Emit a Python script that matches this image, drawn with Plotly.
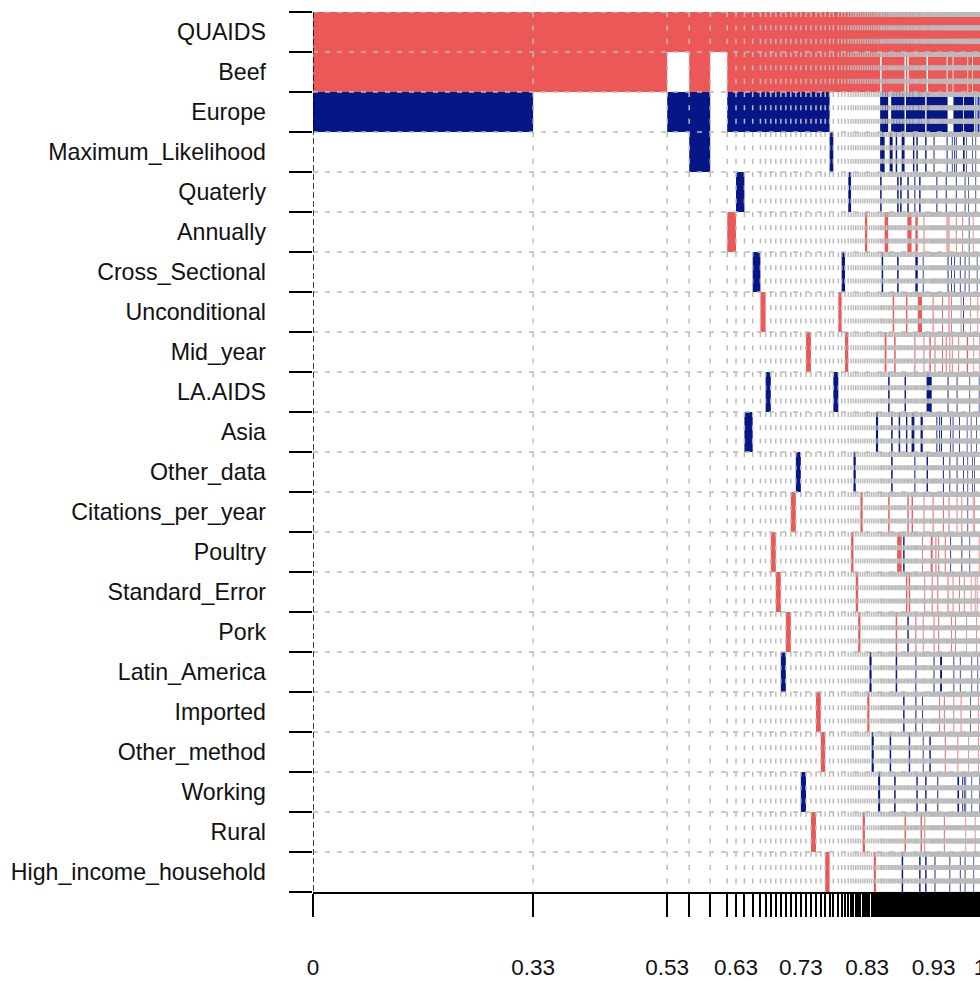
import plotly.graph_objects as go

# Variables shown as rows (top to bottom) and their short codes
variables = [
    "QUAIDS", "Beef", "Europe", "Maximum_Likelihood", "Quaterly", "Annually",
    "Cross_Sectional", "Unconditional", "Mid_year", "LA.AIDS", "Asia", "Other_data",
    "Citations_per_year", "Poultry", "Standard_Error", "Pork", "Latin_America",
    "Imported", "Other_method", "Working", "Rural", "High_income_household",
]
var_codes = [
    "QU", "BE", "EU", "ML", "QT", "AN", "CS", "UN", "MY", "LA", "AS", "OD",
    "CI", "PO", "SE", "PK", "LM", "IM", "OM", "WK", "RU", "HI",
]

# Included regressors of each model (sign of the posterior mean), best model first
model_terms = [
    "QU+ BE+ EU-", "QU+ BE+", "QU+ EU-", "QU+ BE+ EU- ML-", "QU+",
    "QU+ BE+ EU- AN+", "QU+ BE+ EU- QT-", "QU+ BE+ EU- AS-", "QU+ BE+ EU- CS-",
    "QU+ BE+ EU- UN+", "QU+ BE+ EU- LA-", "QU+ BE+ EU- PO+", "QU+ BE+ EU- SE+",
    "QU+ BE+ EU- LM-", "QU+ BE+ EU- PK+", "QU+ BE+ EU- CI+", "QU+ BE+ EU- OD-",
    "QU+ BE+ EU- WK-", "QU+ BE+ EU- MY+", "QU+ BE+ EU- RU+", "QU+ BE+ EU- IM+",
    "QU+ BE+ EU- OM+", "QU+ BE+ EU- HI+",
    "QU+ BE+ ML-", "QU+ BE+ LA-", "QU+ BE+ UN+", "QU+ BE+ CS-", "QU+ BE+ MY+",
    "QU+ BE+ QT-", "QU+ BE+ PO+", "QU+ BE+ OD-", "QU+ BE+ SE+", "QU+ BE+ PK+",
    "QU+ BE+ CI+", "QU+ BE+ RU+", "QU+ BE+ AN+", "QU+ BE+ IM+", "QU+ BE+ LM-",
    "QU+ BE+ OM-", "QU+ BE+ HI+", "QU+ BE+ AS-", "QU+ BE+ WK-",
    # smaller models
    "QU+ EU- ML- QT-", "QU+ BE+ EU- ML- CS-", "QU+ BE+ EU- ML-",
    "QU+ BE+ EU- AN+ MY+", "QU+ BE+ EU- AN+", "QU+ BE+ LA- CI+", "QU+ BE+ ML- OM-",
    "QU+ BE+ EU- ML- AS- OD-", "QU+ BE+ EU- UN+", "QU+ BE+ EU- MY+ WK-",
    "QU+ BE+ EU- ML- PK+ LM-", "QU+ BE+ EU- QT- CS- PO+", "QU+ BE+ EU- PO+ AS-",
    "QU+ BE+ EU- QT- PO+", "QU+ BE+ EU- ML- HI-",
    "QU+ BE+ EU- ML- IM- PO-", "QU+ LA- RU+", "QU+ BE+ EU- UN+ AS- SE+",
    "QU+ EU- AN+ QT- CI+ PK-", "QU+ BE+ EU- AN+ SE+ OM-", "QU+ BE+ EU- AN+",
    "QU+ BE+ EU- AS- CI+", "QU+ BE+ EU- AS- ML-",
    "QU+ BE+ EU- QT- MY+ OD-", "QU+ BE+ EU- PK+ LM- IM- AN+ CS-",
    "QU+ BE+ EU- AN+ CS- ML- WK-", "QU+ BE+ EU- UN+", "QU+ BE+ EU- UN+ QT- HI-",
    "QU+ BE+ EU- AS- UN+ RU+",
    "QU+ BE+ EU- AS- PO+ IM-", "QU+ BE+ EU- PK+ OM- CS-", "QU+ BE+ EU- AN+ MY+ CI+",
    "QU+ BE+ EU- SE+ RU+",
    "QU+ BE+ ML- WK- HI-", "QU+ EU- LA- OD-", "QU+ BE+ EU- LA-", "QU+ BE+ EU- LA- MY+ OM-",
    # tail of the model space
    "QU+ BE+ EU- LA- PO+", "QU+ BE+ EU- SE+ PO+", "QU+ BE+ EU- UN+ CI+",
    "QU+ BE+ EU- PK+ LM- ML-", "QU+ BE+ EU- MY+ HI-", "QU+ BE+ EU- PO+",
    "QU+ BE+ EU- QT- AS-", "QU+ BE+ EU- SE+ WK-", "QU+ BE+ EU- PO+ PK+",
    "QU+ BE+ EU- IM+ AS-", "QU+ BE+ EU- LM-", "QU+ BE+ EU- LM- AS-",
    "QU+ BE+ EU- MY+ UN+", "QU+ BE+ EU- OD- CI+", "QU+ BE+ EU- IM+ RU+",
    "QU+ BE+ EU- PO+ OM+", "QU+ BE+ EU- MY+ QT-", "QU+ EU- ML- AN+",
    "QU+ BE+ LA- SE+ CS-", "QU+ BE+ UN+ CI+ AN+",
    "QU+ BE+ OD- HI- MY+", "QU+ BE+ PO- AS-", "QU+ BE+ CS- PK+ UN+",
    "QU+ BE+ MY+ ML-", "QU+ AS- SE+", "QU+ BE+ EU- LM- IM+",
    "QU+ BE+ EU- CS- ML-", "QU+ BE+ EU- PK+", "QU+ BE+ EU- ML- QT- AN+",
    "QU+ BE+ EU- LA- OD- CI+", "QU+ BE+ EU- OM+ WK-", "QU+ BE+ EU- WK- MY+",
    "QU+ BE+ EU- SE+ AS-", "QU+ BE+ EU- CS- LM- HI-", "QU+ BE+ EU- IM+ UN+",
    "QU+ BE+ EU- CI+ PO-", "QU+ BE+ EU- AN+ WK-", "QU+ BE+ ML- UN- OD-",
    "QU+ BE+ EU- SE+ WK- ML-", "QU+ BE+ EU- QT- CS- HI-",
    "QU+ BE+ EU- RU+ WK-", "QU+ BE+ EU- ML- PK+", "QU+ BE+ EU- AS- MY+",
    "QU+ EU- MY+ OD- CI-", "QU+ BE+ EU- QT- OM+", "QU+ BE+ EU- AN- CS-",
    "QU+ BE+ EU- PO- LA-", "QU+ BE+ EU- UN+ IM-", "QU+ BE+ EU- AS- SE+",
    "QU+ BE+ EU- LM- WK-", "QU+ EU- ML- OD-",
    "QU+ BE+ EU- CI+ AN+", "QU+ BE+ EU- HI- MY+", "QU+ BE+ OD- CI+",
    "QU+ BE+ SE+ RU+", "QU+ BE+ EU- ML- QT-", "QU+ BE+ PK+ AS-",
    "QU+ BE+ EU- SE+ CS-", "QU+ BE+ LM- UN+", "QU+ BE+ EU- IM+ OM+",
    "QU+ BE+ EU- LA- PO+", "QU+ BE+ MY+ WK-",
]

# Posterior model probabilities, same order as model_terms
model_pmp = [
    0.3300, 0.2010, 0.0330, 0.0315, 0.0255,
    0.0132, 0.0126, 0.0124, 0.0116,
    0.0078, 0.0078, 0.0075, 0.0075,
    0.0075, 0.0075, 0.0075, 0.0075,
    0.0077, 0.0075, 0.0075, 0.0072,
    0.0066, 0.0066,
    0.0056, 0.0075, 0.0050, 0.0050, 0.0049,
    0.0042, 0.0036, 0.0035, 0.0035, 0.0034,
    0.0034, 0.0034, 0.0034, 0.0033, 0.0033,
    0.0033, 0.0032, 0.0032, 0.0031,
    0.00225, 0.00225, 0.00225,
    0.0027, 0.00255, 0.00225, 0.00225,
    0.00225, 0.00225, 0.00225,
    0.00225, 0.00225, 0.00225,
    0.00225, 0.00225,
    0.0021, 0.0021, 0.0021,
    0.0021, 0.0021, 0.0021,
    0.0021, 0.0021,
    0.0015, 0.0015,
    0.0021, 0.0021, 0.0021,
    0.0021,
    0.0012, 0.0012, 0.0012,
    0.0012,
    0.0021, 0.0021, 0.0021, 0.0021,
    0.0014, 0.0014, 0.0014,
    0.0014, 0.0014, 0.0014,
    0.0014, 0.0014, 0.0014,
    0.0014, 0.0014, 0.0014,
    0.0014, 0.0014, 0.0014,
    0.0014, 0.0014, 0.0014,
    0.0014, 0.0014,
    0.0012, 0.0012, 0.0012,
    0.0012, 0.0012, 0.0012,
    0.0012, 0.0012, 0.0012,
    0.0012, 0.0012, 0.0012,
    0.0012, 0.0012, 0.0012,
    0.0012, 0.0012, 0.0012,
    0.0012, 0.0012,
    0.0010, 0.0010, 0.0010,
    0.0010, 0.0010, 0.0010,
    0.0010, 0.0010, 0.0010,
    0.0010, 0.0010, 0.0010,
    0.0010, 0.0010,
    0.0010, 0.0010, 0.0010,
    0.0010, 0.0010, 0.0010,
    0.0010, 0.0008,
]

# Cumulative model probabilities printed under the axis
x_label_values = [0, 0.33, 0.53, 0.63, 0.73, 0.83, 0.93, 1]

POS_COLOR = "#EC5858"
NEG_COLOR = "#061686"
GRID_COLOR = "#BBBBBB"
FONT = "Liberation Sans, Arial, Helvetica, sans-serif"

assert len(model_terms) == len(model_pmp)
n_var = len(variables)
n_mod = len(model_pmp)
code_row = {c: i for i, c in enumerate(var_codes)}

# sign matrix: +1 / -1 if the variable is in the model, 0 otherwise
sign = [[0] * n_mod for _ in range(n_var)]
for m, terms in enumerate(model_terms):
    for t in terms.split():
        sign[code_row[t[:2]]][m] = 1 if t[2] == "+" else -1

# model boundaries on the cumulative-probability axis
edges = [0.0]
for p in model_pmp:
    edges.append(edges[-1] + p)

# one rectangle per run of consecutive models sharing the same sign in a row
cells = {1: ([], []), -1: ([], [])}
for r in range(n_var):
    m = 0
    while m < n_mod:
        s = sign[r][m]
        if s == 0:
            m += 1
            continue
        k = m
        while k + 1 < n_mod and sign[r][k + 1] == s:
            k += 1
        x0, x1 = edges[m], edges[k + 1]
        xs, ys = cells[s]
        xs.extend([x0, x1, x1, x0, x0, None])
        ys.extend([r, r, r + 1, r + 1, r, None])
        m = k + 1

fig = go.Figure()
for s, col in ((1, POS_COLOR), (-1, NEG_COLOR)):
    xs, ys = cells[s]
    fig.add_trace(go.Scatter(
        x=xs, y=ys, mode="lines", fill="toself", fillcolor=col,
        line=dict(width=0, color=col, simplify=False),
        hoverinfo="skip", showlegend=False,
    ))

# dashed grid: one vertical line per model boundary, one horizontal per row boundary
gx, gy = [], []
for e in edges[1:]:
    gx.extend([e, e, None])
    gy.extend([0, n_var, None])
fig.add_trace(go.Scatter(
    x=gx, y=gy, mode="lines",
    line=dict(color=GRID_COLOR, width=1.5, dash="5px,8.33px", simplify=False),
    hoverinfo="skip", showlegend=False,
))
hx, hy = [], []
for r in range(n_var):
    hx.extend([0, edges[-1], None])
    hy.extend([r, r, None])
fig.add_trace(go.Scatter(
    x=hx, y=hy, mode="lines",
    line=dict(color=GRID_COLOR, width=1.6, dash="5px,7px", simplify=False),
    hoverinfo="skip", showlegend=False,
))
fig.add_trace(go.Scatter(
    x=[0, 0], y=[0, n_var], mode="lines",
    line=dict(color="black", width=1.5, dash="6px,3px"),
    hoverinfo="skip", showlegend=False,
))

# tick at every model boundary, text only at the labelled positions
tick_text = [""] * len(edges)
for v in x_label_values:
    j = min(range(len(edges)), key=lambda i: abs(edges[i] - v))
    tick_text[j] = f"{v:g}"

fig.update_xaxes(
    range=[0, 1], tickmode="array", tickvals=edges, ticktext=tick_text,
    ticks="outside", ticklen=23, tickwidth=1.5, tickcolor="black",
    ticklabelstandoff=31, ticklabeloverflow="allow", automargin=False,
    showgrid=False, zeroline=False, showline=True, linecolor="black", linewidth=1.5,
    tickfont=dict(family=FONT, size=22.5, color="#111111"),
)
fig.update_yaxes(
    range=[n_var, 0], tickmode="array",
    tickvals=[r + 0.5 for r in range(n_var)], ticktext=variables,
    ticks="", ticklabelstandoff=46, automargin=False,
    minor=dict(tickmode="array", tickvals=list(range(n_var + 1)), ticks="outside",
               ticklen=23, tickwidth=1.8, tickcolor="black", showgrid=False),
    showgrid=False, zeroline=False, showline=False,
    tickfont=dict(family=FONT, size=23.2, color="#111111"),
)
fig.update_layout(
    width=980, height=981,
    margin=dict(l=313, r=0, t=12, b=89),
    plot_bgcolor="white", paper_bgcolor="white",
    showlegend=False,
)
fig.write_html("out.html")
